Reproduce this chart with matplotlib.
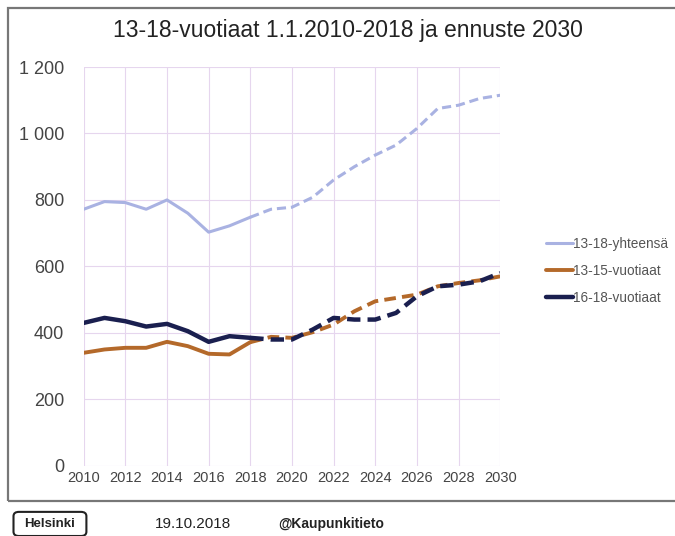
import matplotlib.pyplot as plt
from matplotlib.patches import Rectangle, FancyBboxPatch
from matplotlib.ticker import FuncFormatter

plt.rcParams['font.family'] = ['Liberation Sans', 'DejaVu Sans']

years = list(range(2010, 2031))
total = [772, 795, 792, 772, 800, 760, 703, 722, 748, 772, 778, 808, 860, 900,
         935, 965, 1015, 1075, 1085, 1105, 1115]
age13_15 = [340, 350, 355, 355, 373, 360, 337, 335, 372, 388, 385, 402, 425, 465,
            495, 505, 515, 540, 550, 558, 570]
age16_18 = [430, 445, 435, 419, 427, 405, 373, 390, 385, 380, 380, 410, 445, 440,
            440, 460, 510, 540, 545, 555, 580]
last_actual = 2018

series = [
    ('13-18-yhteensä', total, '#a9b2e2', 2.2),
    ('13-15-vuotiaat', age13_15, '#b4692a', 2.8),
    ('16-18-vuotiaat', age16_18, '#1a1f4f', 3.2),
]

fig = plt.figure(figsize=(6.75, 5.36), dpi=100)
ax = fig.add_axes([0.124, 0.131, 0.617, 0.744])

k = years.index(last_actual)
for name, vals, color, lw in series:
    ax.plot(years[:k + 1], vals[:k + 1], color=color, lw=lw, solid_capstyle='round',
            label=name)
    ax.plot(years[k:], vals[k:], color=color, lw=lw, ls=(0, (3, 1.6)))

ax.set_xlim(2010, 2030)
ax.set_ylim(0, 1200)
ax.set_xticks(range(2010, 2031, 2))
ax.set_yticks(range(0, 1201, 200))
ax.yaxis.set_major_formatter(FuncFormatter(lambda v, p: f'{int(v):,}'.replace(',', ' ')))
ax.tick_params(axis='x', labelsize=10.5, colors='#444444', length=0, pad=4)
ax.tick_params(axis='y', labelsize=13, colors='#444444', length=0, pad=14)
ax.grid(True, color='#e6d6ee', lw=0.8)
for s in ax.spines.values():
    s.set_visible(False)

fig.text(0.516, 0.943, '13-18-vuotiaat 1.1.2010-2018 ja ennuste 2030', fontsize=16.5,
         color='#222222', ha='center', va='center')

handles, labels = ax.get_legend_handles_labels()
leg = fig.legend(handles, labels, loc='center left', bbox_to_anchor=(0.79, 0.495),
                 frameon=False, fontsize=9.8, handlelength=2.0, handletextpad=0.0,
                 labelspacing=0.95, labelcolor='#555555')

# outer frame and footer
fig.add_artist(Rectangle((0.012, 0.066), 1.0, 0.92, transform=fig.transFigure,
                         fill=False, ec='#777777', lw=1.6))
fig.add_artist(FancyBboxPatch((0.02, 0.0), 0.108, 0.045, transform=fig.transFigure,
                              boxstyle='round,pad=0.0,rounding_size=0.008',
                              fill=False, ec='#222222', lw=1.5))
fig.text(0.074, 0.023, 'Helsinki', ha='center', va='center', fontsize=9.5,
         fontweight='bold', color='#222222')
fig.text(0.23, 0.023, '19.10.2018', ha='left', va='center', fontsize=11,
         color='#222222')
fig.text(0.412, 0.023, '@Kaupunkitieto', ha='left', va='center', fontsize=10,
         color='#222222', fontweight='bold')

fig.savefig('out.png', dpi=100)
